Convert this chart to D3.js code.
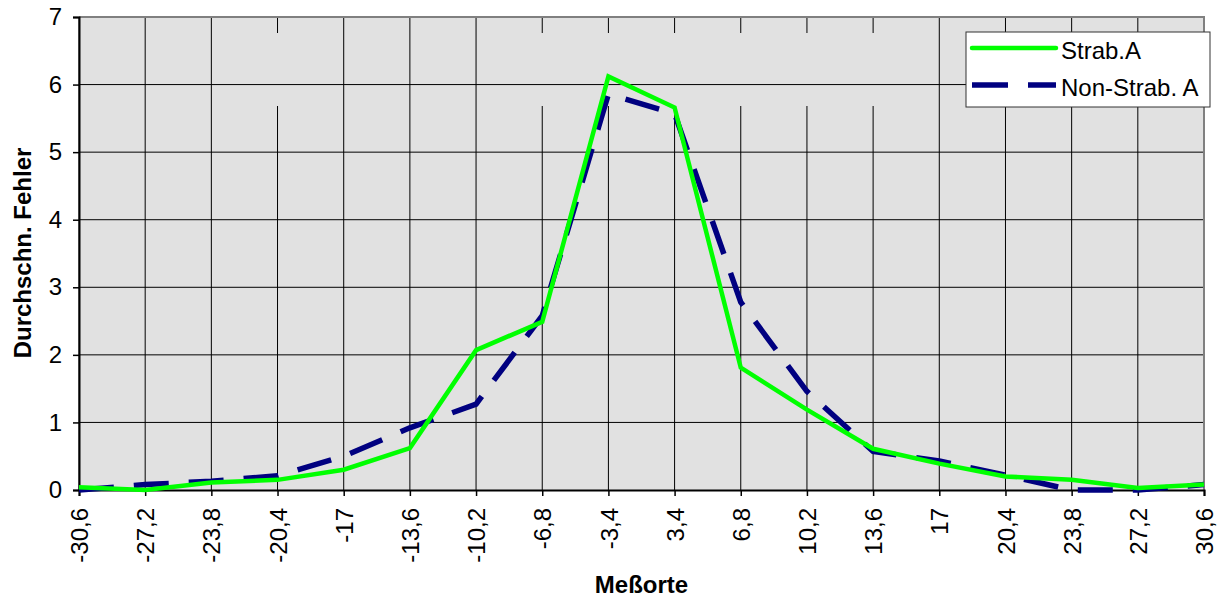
<!DOCTYPE html>
<html>
<head>
<meta charset="utf-8">
<script src="https://cdn.jsdelivr.net/npm/d3@7"></script>
<style>
  html, body { margin: 0; padding: 0; background: #ffffff; }
  svg { display: block; font-family: Arial, "Liberation Sans", sans-serif; }
</style>
</head>
<body>
<svg id="chart" width="1221" height="600"></svg>
<script>
// ---- data ----
const categories = ["-30,6","-27,2","-23,8","-20,4","-17","-13,6","-10,2","-6,8","-3,4",
                    "3,4","6,8","10,2","13,6","17","20,4","23,8","27,2","30,6"];
const strabA    = [0.04, 0.00, 0.11, 0.15, 0.30, 0.62, 2.07, 2.49, 6.12, 5.66, 1.81, 1.19, 0.61, 0.39, 0.20, 0.15, 0.03, 0.08];
const nonStrabA = [0.00, 0.08, 0.13, 0.21, 0.50, 0.92, 1.27, 2.58, 5.86, 5.57, 2.78, 1.46, 0.57, 0.43, 0.22, 0.00, 0.00, 0.08];
const yTicks = [0, 1, 2, 3, 4, 5, 6, 7];
const seriesNames = ["Strab.A", "Non-Strab. A"];
const gridGaps = ["-20,4", "-6,8", "-3,4", "3,4", "6,8", "10,2", "13,6"];

// ---- layout ----
const svg = d3.select("#chart");
const L = 79, R = 1204, T = 17, B = 490;
const x = d3.scalePoint().domain(categories).range([L, R]);
const y = d3.scaleLinear().domain([0, 7]).range([B, T]);

// plot background
svg.append("rect").attr("x", L).attr("y", T).attr("width", R - L).attr("height", B - T)
  .attr("fill", "#e1e1e1");

// legend box geometry (also used for the gridline gaps)
const lg = { x: 966, y: 32, w: 244, h: 75 };

// vertical gridlines
const vg = svg.append("g").attr("stroke", "#000").attr("stroke-width", 1);
categories.forEach(c => {
  if (gridGaps.includes(c)) {
    vg.append("line").attr("x1", x(c)).attr("x2", x(c)).attr("y1", T).attr("y2", lg.y + 1);
    vg.append("line").attr("x1", x(c)).attr("x2", x(c)).attr("y1", lg.y + lg.h - 1).attr("y2", B);
  } else {
    vg.append("line").attr("x1", x(c)).attr("x2", x(c)).attr("y1", T).attr("y2", B);
  }
});
// horizontal gridlines
svg.append("g").attr("stroke", "#000").attr("stroke-width", 1)
  .selectAll("line").data(yTicks.filter(v => v > 0 && v < 7)).join("line")
  .attr("x1", L).attr("x2", R).attr("y1", d => y(d)).attr("y2", d => y(d));

// top & right frame (gray)
svg.append("line").attr("x1", L).attr("x2", R + 1).attr("y1", T).attr("y2", T)
  .attr("stroke", "#808080").attr("stroke-width", 2);
svg.append("line").attr("x1", R).attr("x2", R).attr("y1", T).attr("y2", B)
  .attr("stroke", "#808080").attr("stroke-width", 2);

// axes
const yAxis = d3.axisLeft(y).tickValues(yTicks).tickSize(6).tickPadding(11).tickFormat(d3.format("d"));
const gy = svg.append("g").attr("transform", `translate(${L},0)`).call(yAxis);
gy.select(".domain").attr("stroke", "#000").attr("stroke-width", 2);
gy.selectAll(".tick line").attr("stroke", "#000").attr("stroke-width", 1.5);
gy.selectAll(".tick text").attr("font-size", 24).attr("fill", "#000")
  .attr("font-family", "Arial, 'Liberation Sans', sans-serif");

const xAxis = d3.axisBottom(x).tickSize(6).tickPadding(0);
const gx = svg.append("g").attr("transform", `translate(0,${B})`).call(xAxis);
gx.select(".domain").attr("stroke", "#000").attr("stroke-width", 2);
gx.selectAll(".tick line").attr("stroke", "#000").attr("stroke-width", 1.5);
gx.selectAll(".tick text")
  .attr("font-size", 24).attr("fill", "#000")
  .attr("font-family", "Arial, 'Liberation Sans', sans-serif")
  .attr("text-anchor", "end")
  .attr("transform", "rotate(-90)")
  .attr("x", -18).attr("y", 0).attr("dy", "0.36em");

// series lines
const line = d3.line().x((d, i) => x(categories[i])).y(d => y(d));
svg.append("path").datum(nonStrabA).attr("d", line)
  .attr("fill", "none").attr("stroke", "#000080").attr("stroke-width", 5.5)
  .attr("stroke-dasharray", "35,20");
svg.append("path").datum(strabA).attr("d", line)
  .attr("fill", "none").attr("stroke", "#00ff00").attr("stroke-width", 4.5);

// axis titles
svg.append("text").attr("x", (L + R) / 2).attr("y", 593).attr("text-anchor", "middle")
  .attr("font-size", 24).attr("font-weight", "bold").attr("fill", "#000").text("Meßorte");
svg.append("text").attr("transform", `translate(31,253) rotate(-90)`).attr("text-anchor", "middle")
  .attr("font-size", 24).attr("font-weight", "bold").attr("fill", "#000").text("Durchschn. Fehler");

// legend
const g = svg.append("g");
g.append("rect").attr("x", lg.x).attr("y", lg.y).attr("width", lg.w).attr("height", lg.h)
  .attr("fill", "#fff").attr("stroke", "#333").attr("stroke-width", 1);
g.append("line").attr("x1", 972).attr("x2", 1056).attr("y1", 48).attr("y2", 48)
  .attr("stroke", "#00ff00").attr("stroke-width", 4.5).attr("stroke-linecap", "round");
g.append("line").attr("x1", 972).attr("x2", 1056).attr("y1", 85).attr("y2", 85)
  .attr("stroke", "#000080").attr("stroke-width", 5.5).attr("stroke-dasharray", "36,20");
g.append("text").attr("x", 1061).attr("y", 59).attr("font-size", 24).attr("fill", "#000").text(seriesNames[0]);
g.append("text").attr("x", 1061).attr("y", 96).attr("font-size", 24).attr("fill", "#000").text(seriesNames[1]);
</script>
</body>
</html>
